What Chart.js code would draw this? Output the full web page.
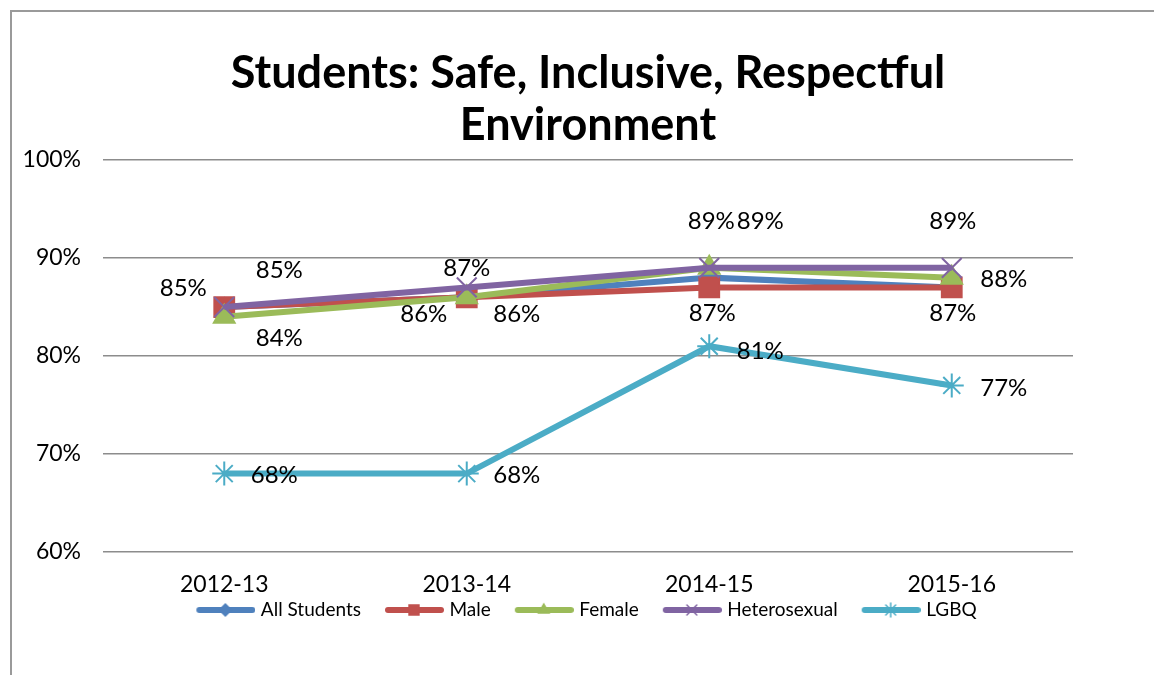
<!DOCTYPE html>
<html>
<head>
<meta charset="utf-8">
<script src="https://cdn.jsdelivr.net/npm/chart.js@4"></script>
<style>
  html, body { margin: 0; padding: 0; background: #fff; }
  #wrap { width: 1154px; height: 675px; position: relative; }
</style>
</head>
<body>
<div id="wrap"><canvas id="chartCanvas" width="1154" height="675"></canvas></div>
<script>
const years = ["2012-13", "2013-14", "2014-15", "2015-16"];
const allStudents = [85, 86, 88, 87];
const male = [85, 86, 87, 87];
const female = [84, 86, 89, 88];
const heterosexual = [85, 87, 89, 89];
const lgbq = [68, 68, 81, 77];
const yTicks = [60, 70, 80, 90, 100];

// where each value label sits relative to its point (null = no label)
const labelOffsets = [
  [null, null, null, null],
  [[-41, -19], [-43, 17], [3, 26], [1, 26]],
  [[55, 21], [50, 17], [2, -47], [52, 2]],
  [[55, -37], [0, -19], [51, -47], [1, -47]],
  [[50, 2], [50, 2], [51, 5], [52, 3]]
];

const FONT = "Lato, 'Open Sans', sans-serif";
const LEGEND_Y = 610;

// legend swatch: a short thick line with the marker in the middle
function swatch(color, style, r) {
  const c = document.createElement("canvas");
  c.width = 60; c.height = 16;
  const g = c.getContext("2d");
  g.strokeStyle = color;
  g.lineWidth = 6;
  g.lineCap = "round";
  g.beginPath(); g.moveTo(4, 8); g.lineTo(57, 8); g.stroke();
  g.fillStyle = color;
  g.lineWidth = 1.5;
  Chart.helpers.drawPoint(g, { pointStyle: style, radius: r, rotation: 0, borderWidth: 1.5 }, 30, 8);
  return c;
}

const series = [
  { label: "All Students", data: allStudents, color: "#4F81BD", style: "rectRot", r: 9, lr: 6 },
  { label: "Male", data: male, color: "#C0504D", style: "rect", r: 14, lr: 7 },
  { label: "Female", data: female, color: "#9BBB59", style: "triangle", r: 12, lr: 6 },
  { label: "Heterosexual", data: heterosexual, color: "#8064A2", style: "crossRot", r: 14, lr: 7 },
  { label: "LGBQ", data: lgbq, color: "#4BACC6", style: "star", r: 12, lr: 7 }
];

const frame = {
  id: "frame",
  beforeDraw(chart) {
    const ctx = chart.ctx;
    ctx.save();
    ctx.fillStyle = "#fff";
    ctx.fillRect(0, 0, chart.width, chart.height);
    ctx.strokeStyle = "#9a9a9a";
    ctx.lineWidth = 2;
    ctx.beginPath();
    ctx.moveTo(11, chart.height);
    ctx.lineTo(11, 11);
    ctx.lineTo(chart.width, 11);
    ctx.stroke();
    ctx.restore();
  }
};

// pull the legend up close under the category labels, like Excel does
const legendNudge = {
  id: "legendNudge",
  afterLayout(chart) {
    const lg = chart.legend;
    const pad = lg.options.labels.padding;
    const half = lg.options.labels.font.size / 2;
    const shift = (lg.top + pad + half) - LEGEND_Y;
    lg.top -= shift;
    lg.bottom -= shift;
  }
};

const valueLabels = {
  id: "valueLabels",
  afterDatasetsDraw(chart) {
    const ctx = chart.ctx;
    ctx.save();
    ctx.font = "24px " + FONT;
    ctx.fillStyle = "#000";
    ctx.textAlign = "center";
    ctx.textBaseline = "middle";
    chart.data.datasets.forEach((ds, i) => {
      const meta = chart.getDatasetMeta(i);
      meta.data.forEach((pt, j) => {
        const off = labelOffsets[i][j];
        if (!off) return;
        ctx.fillText(ds.data[j] + "%", pt.x + off[0], pt.y + off[1]);
      });
    });
    ctx.restore();
  }
};

new Chart(document.getElementById("chartCanvas").getContext("2d"), {
  type: "line",
  data: {
    labels: years,
    datasets: series.map((s, i) => ({
      label: s.label,
      data: s.data,
      borderColor: s.color,
      backgroundColor: s.color,
      pointBackgroundColor: s.color,
      pointBorderColor: s.color,
      borderWidth: 6,
      pointStyle: s.style,
      pointRadius: s.r,
      pointBorderWidth: 2,
      tension: 0,
      order: series.length - i,
      legendImg: swatch(s.color, s.style, s.lr)
    }))
  },
  options: {
    responsive: false,
    animation: false,
    layout: { padding: { left: 0, right: 81, top: 0, bottom: 19 } },
    plugins: {
      title: {
        display: true,
        fullSize: false,
        text: ["Students: Safe, Inclusive, Respectful", "Environment"],
        color: "#000",
        font: { family: FONT, size: 45, weight: "bold", lineHeight: 1.156 },
        padding: { top: 47, bottom: 9 }
      },
      legend: {
        position: "bottom",
        fullSize: false,
        labels: {
          usePointStyle: true,
          pointStyleWidth: 52,
          color: "#000",
          font: { family: FONT, size: 19 },
          padding: 27,
          generateLabels(chart) {
            return chart.data.datasets.map((ds, i) => ({
              text: ds.label,
              pointStyle: ds.legendImg,
              fillStyle: ds.borderColor,
              strokeStyle: ds.borderColor,
              lineWidth: 0,
              hidden: false,
              datasetIndex: i,
              fontColor: "#000"
            }));
          }
        }
      },
      tooltip: { enabled: false }
    },
    scales: {
      x: {
        offset: true,
        afterFit(scale) { scale.height = 48; },
        grid: { display: false, drawTicks: false },
        border: { display: false },
        ticks: { color: "#000", font: { family: FONT, size: 23 }, padding: 19 }
      },
      y: {
        min: yTicks[0],
        max: yTicks[yTicks.length - 1],
        afterFit(scale) { scale.width = 103; },
        afterBuildTicks(scale) { scale.ticks = yTicks.map(v => ({ value: v })); },
        grid: { color: "#8c8c8c", lineWidth: 1.5, drawTicks: false },
        border: { display: false },
        ticks: {
          color: "#000",
          font: { family: FONT, size: 23 },
          padding: 22,
          callback: v => v + "%"
        }
      }
    }
  },
  plugins: [frame, legendNudge, valueLabels]
});
</script>
</body>
</html>
